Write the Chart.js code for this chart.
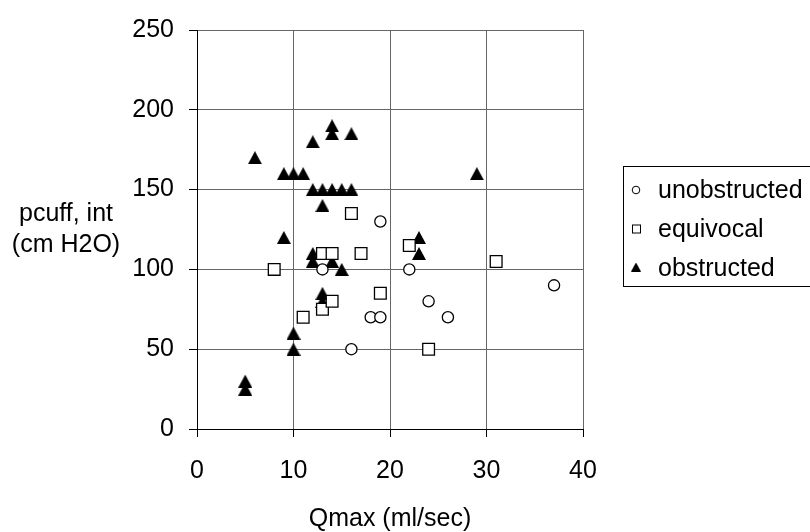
<!DOCTYPE html>
<html>
<head>
<meta charset="utf-8">
<script src="https://cdn.jsdelivr.net/npm/chart.js@4.4.1/dist/chart.umd.min.js"></script>
<style>
    html, body { margin: 0; padding: 0; background: #fff; }
    #pai-grafico { width: 810px; height: 532px; }
</style>
</head>
<body>
<div id="pai-grafico"><canvas id="graficoQmax"></canvas></div>
<script>
// valores
const xTicks = [0, 10, 20, 30, 40];
const yTicks = [0, 50, 100, 150, 200, 250];

const unobstructedX = [13, 16, 18, 19, 19, 22, 24, 26, 37];
const unobstructedY = [100, 50, 70, 70, 130, 100, 80, 70, 90];

const equivocalX = [8, 11, 13, 13, 14, 14, 16, 17, 19, 22, 24, 31];
const equivocalY = [100, 70, 75, 110, 80, 110, 135, 110, 85, 115, 50, 105];

const obstructedX = [5, 5, 6, 9, 9, 10, 10, 10, 11, 12, 12, 12, 12, 13, 13, 13, 13, 14, 14, 14, 14, 15, 15, 16, 16, 23, 23, 29];
const obstructedY = [25, 30, 170, 120, 160, 50, 60, 160, 160, 105, 110, 150, 180, 80, 85, 140, 150, 105, 150, 185, 190, 100, 150, 150, 185, 110, 120, 160];

const familia = "'Liberation Sans', Arial, sans-serif";
const fonte = "25px " + familia;

function juntar(xs, ys) {
    return xs.map((x, i) => ({ x: x, y: ys[i] }));
}

// triangulo cheio centrado na caixa (como no Excel)
function triangulo(w, h) {
    const c = document.createElement('canvas');
    c.width = w;
    c.height = h;
    const g = c.getContext('2d');
    g.fillStyle = '#000';
    g.beginPath();
    g.moveTo(w / 2, 0);
    g.lineTo(w, h);
    g.lineTo(0, h);
    g.closePath();
    g.fill();
    return c;
}

const textos = {
    id: 'textos',
    afterDraw(chart) {
        const c = chart.ctx;
        const area = chart.chartArea;
        c.save();
        c.fillStyle = '#000';
        c.font = fonte;
        c.textBaseline = 'alphabetic';
        c.textAlign = 'center';
        c.fillText('pcuff, int', 66, 221);
        c.fillText('(cm H2O)', 66, 252);
        c.fillText('Qmax (ml/sec)', (area.left + area.right) / 2, 526);

        // legenda
        c.strokeStyle = '#000';
        c.lineWidth = 1;
        c.strokeRect(623.5, 166.5, 200, 120);
        c.textAlign = 'left';
        const nomes = chart.data.datasets.map(d => d.label);
        const base = [198, 237, 276];

        c.fillStyle = '#fff';
        c.beginPath();
        c.arc(636, base[0] - 8, 3.8, 0, Math.PI * 2);
        c.fill();
        c.stroke();
        c.fillRect(632, base[1] - 12.5, 8, 8);
        c.strokeRect(632.5, base[1] - 12, 8, 8);
        c.drawImage(triangulo(10, 9), 631, base[2] - 13.5);

        c.fillStyle = '#000';
        nomes.forEach((n, i) => c.fillText(n, 658, base[i]));
        c.restore();
    }
};

const ctx = document.getElementById('graficoQmax').getContext('2d');

new Chart(ctx, {
    type: 'scatter',
    data: {
        datasets: [{
            label: 'unobstructed',
            data: juntar(unobstructedX, unobstructedY),
            pointStyle: 'circle',
            pointRadius: 5.6,
            backgroundColor: '#fff',
            borderColor: '#000',
            borderWidth: 1.3
        }, {
            label: 'equivocal',
            data: juntar(equivocalX, equivocalY),
            pointStyle: 'rect',
            pointRadius: 8.3,
            backgroundColor: '#fff',
            borderColor: '#000',
            borderWidth: 1.3
        }, {
            label: 'obstructed',
            data: juntar(obstructedX, obstructedY),
            pointStyle: triangulo(14, 13),
            pointRadius: 7,
            backgroundColor: '#000',
            borderColor: '#000'
        }]
    },
    options: {
        responsive: true,
        maintainAspectRatio: false,
        animation: false,
        layout: {
            padding: { left: 0, top: 25, right: 227, bottom: 0 }
        },
        scales: {
            x: {
                type: 'linear',
                min: 0,
                max: 40,
                afterBuildTicks: s => { s.ticks = xTicks.map(v => ({ value: v })); },
                afterFit: s => { s.height = 103; },
                ticks: {
                    color: '#000',
                    font: { family: familia, size: 25 },
                    padding: 19
                },
                grid: { color: '#666', tickColor: '#000', tickLength: 8 },
                border: { color: '#000' }
            },
            y: {
                type: 'linear',
                min: 0,
                max: 250,
                afterBuildTicks: s => { s.ticks = yTicks.map(v => ({ value: v })); },
                afterFit: s => { s.width = 197; },
                ticks: {
                    color: '#000',
                    font: { family: familia, size: 25 },
                    padding: 15
                },
                grid: { color: '#666', tickColor: '#000', tickLength: 8 },
                border: { color: '#000' }
            }
        },
        plugins: {
            legend: { display: false },
            tooltip: { enabled: false }
        }
    },
    plugins: [textos]
});
</script>
</body>
</html>
